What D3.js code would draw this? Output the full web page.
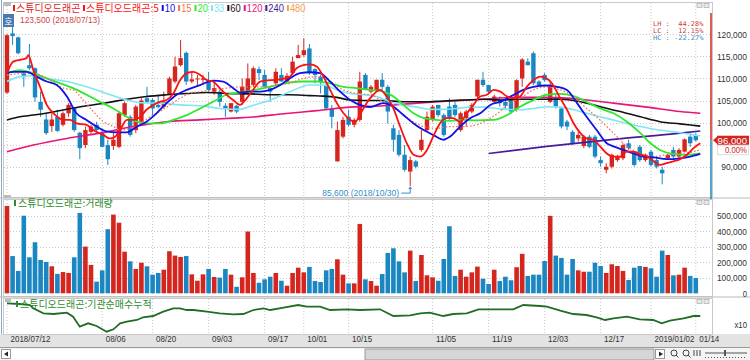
<!DOCTYPE html>
<html><head><meta charset="utf-8">
<script src="https://cdn.jsdelivr.net/npm/d3@7"></script>
<style>body{margin:0;background:#fff}svg{display:block}</style>
</head><body><svg id="c" width="750" height="360"></svg>
<script>
const dates = ["2018-07-12","2018-07-13","2018-07-16","2018-07-17","2018-07-18","2018-07-19","2018-07-20","2018-07-23","2018-07-24","2018-07-25","2018-07-26","2018-07-27","2018-07-30","2018-07-31",
"2018-08-01","2018-08-02","2018-08-03","2018-08-06","2018-08-07","2018-08-08","2018-08-09","2018-08-10","2018-08-13","2018-08-14","2018-08-16","2018-08-17","2018-08-20","2018-08-21","2018-08-22","2018-08-23","2018-08-24","2018-08-27","2018-08-28","2018-08-29","2018-08-30","2018-08-31",
"2018-09-03","2018-09-04","2018-09-05","2018-09-06","2018-09-07","2018-09-10","2018-09-11","2018-09-12","2018-09-13","2018-09-14","2018-09-17","2018-09-18","2018-09-19","2018-09-20","2018-09-21","2018-09-27","2018-09-28",
"2018-10-01","2018-10-02","2018-10-04","2018-10-05","2018-10-08","2018-10-10","2018-10-11","2018-10-12","2018-10-15","2018-10-16","2018-10-17","2018-10-18","2018-10-19","2018-10-22","2018-10-23","2018-10-24","2018-10-25","2018-10-26","2018-10-29","2018-10-30","2018-10-31",
"2018-11-01","2018-11-02","2018-11-05","2018-11-06","2018-11-07","2018-11-08","2018-11-09","2018-11-12","2018-11-13","2018-11-14","2018-11-15","2018-11-16","2018-11-19","2018-11-20","2018-11-21","2018-11-22","2018-11-23","2018-11-26","2018-11-27","2018-11-28","2018-11-29","2018-11-30",
"2018-12-03","2018-12-04","2018-12-05","2018-12-06","2018-12-07","2018-12-10","2018-12-11","2018-12-12","2018-12-13","2018-12-14","2018-12-17","2018-12-18","2018-12-19","2018-12-20","2018-12-21","2018-12-24","2018-12-26","2018-12-27","2018-12-28",
"2019-01-02","2019-01-03","2019-01-04","2019-01-07","2019-01-08","2019-01-09","2019-01-10","2019-01-11","2019-01-14"];

const open  = [106800,120200,119300,111100,113000,112300,104700,100700,99200,101300,99500,102100,103200,97700,94900,97900,99500,97900,94900,94700,94500,101700,101300,98300,100200,105500,105100,104000,103600,106300,109300,113000,115800,109300,109800,109700,109300,107000,107000,103800,102500,103800,104700,107000,108500,112100,110800,107800,108900,110800,109300,111200,114600,115300,116800,112100,110400,108500,103200,91200,96800,101300,99500,100600,110800,107000,107400,109700,108100,98700,97200,92700,88900,91200,93800,98300,100600,104000,101700,103600,104000,98300,101000,102500,105900,109700,108500,104700,105100,104700,105100,102900,110000,113800,115700,109300,110800,104700,105500,103200,100200,97900,96400,94700,96800,96800,91500,89300,90000,91500,91900,95300,93000,94500,91500,93400,91500,89300,91900,93800,92300,93400,96800,97200];
const high  = [120000,123500,119500,111900,117800,112500,107000,102100,102500,102900,102500,104400,103500,97900,99100,99500,100200,98700,96100,97600,102500,104700,101700,104000,105500,108100,105500,106300,107000,110400,114900,118700,116100,111500,110800,110800,111500,109600,107400,104400,104400,104000,110000,113400,112700,112700,111900,108100,112300,112300,111200,114900,117600,119100,117800,112300,110800,108900,104000,100200,101300,102900,101000,111500,111200,108500,109700,111200,108500,99500,98300,94900,92300,91500,98300,102500,104000,104000,102100,105500,104700,102500,102900,104400,109700,111500,108500,106300,105900,105100,105900,109800,114600,114600,116100,109600,111200,109300,106300,103600,100600,98300,97900,97200,97200,97200,92300,90800,93000,92700,95300,96100,93400,94900,93000,93800,91900,90000,93000,94500,94200,96400,97600,97600];
const low   = [106500,117600,115500,108100,111900,104700,101300,97200,97900,97900,99100,101300,97900,91700,94200,97400,97600,94500,90400,93800,94200,101300,96800,97600,99800,104400,101700,103200,103200,106300,108900,112700,108500,108900,108100,108500,107000,106300,103600,101300,102300,102100,104000,106600,108100,109600,107800,104700,108500,109300,108900,110800,114600,114900,110800,108900,106600,102900,98700,91200,96400,99100,98900,100200,107400,106600,107000,107400,99800,93400,92300,88900,85600,89600,93400,97900,100200,101300,96800,100600,101300,97900,99100,102100,105500,108100,106600,104400,103600,102900,102100,102500,108100,113000,108500,108100,109300,104400,103200,98700,98300,94900,95700,94200,94200,91900,90000,88500,89600,91100,91500,93800,90000,91100,91100,90000,89600,86000,91500,91900,91900,93400,94500,95700];
const close = [119800,119600,115700,110300,112300,105700,102900,97600,100700,98100,102100,104000,98300,94200,98300,99100,98300,94500,91700,96100,102100,104400,97200,103600,105000,104700,103200,103500,104700,110000,112700,114600,109300,109800,110000,110000,107400,107800,104700,103200,104400,102500,108100,110000,112300,111200,108100,107000,111500,109300,110600,113800,115300,116400,111200,110800,109300,103200,101300,98300,100600,99500,100600,109300,107400,108100,109700,108100,102500,96100,92700,89300,91500,90000,96100,101300,103600,101700,97200,101000,101700,102100,102500,104000,109700,108500,107000,105900,104400,103800,102500,109600,114300,113000,108900,108500,109600,108100,103600,99100,99100,95300,97200,96800,94500,92300,90800,90000,92700,92400,94900,94200,90400,91500,92700,90400,90000,88500,92700,92300,93800,96200,95300,96000];
const volume = [563000,240000,144000,500000,232000,329000,215000,202000,174000,125000,137000,131000,232000,518000,301000,183000,75000,148000,413000,507000,455000,268000,206000,157000,197000,174000,120000,131000,152000,271000,243000,234000,240000,122000,81000,122000,157000,105000,101000,157000,120000,42000,103000,398000,131000,68000,90000,107000,131000,81000,49000,131000,165000,135000,170000,79000,73000,148000,157000,219000,120000,64000,64000,447000,90000,79000,49000,124000,260000,290000,206000,135000,275000,79000,247000,116000,103000,81000,221000,432000,112000,152000,107000,135000,172000,94000,60000,152000,79000,107000,84000,168000,254000,112000,120000,120000,208000,499000,243000,228000,120000,221000,148000,139000,139000,197000,176000,131000,187000,176000,144000,86000,165000,176000,170000,161000,107000,275000,247000,116000,120000,165000,112000,99000];

// moving averages: [candle index, price]
const ma5 = [[0,111200],[1.1,113800],[3.5,114600],[3.8,115300],[4.7,111900],[5.9,108100],[7.1,104000],[8.3,102100],[10.1,100600],[11.3,100600],[12.4,99800],[14.2,99500],[15.4,98300],[17.2,97200],[18.4,96400],[19.3,96800],[20.2,98300],[21.4,100600],[22.6,100600],[23.8,101300],[24.9,102900],[26.1,104000],[27.3,104700],[28.5,105100],[29.7,106600],[30.9,109600],[32.1,111200],[33.3,111500],[34.5,110800],[35.7,109600],[36.8,109300],[38,107800],[39.2,106300],[40.4,105100],[41.6,104000],[42.8,105500],[44,107500],[45.2,109300],[47,109600],[48.8,109800],[50.5,110400],[51.7,112300],[52.9,113000],[54.1,113200],[55.3,112700],[56.5,110400],[57.7,107400],[58.9,104400],[60.1,102100],[61.3,100600],[62.2,100200],[63,101700],[64.2,104400],[65.4,106300],[66.6,107400],[67.8,105900],[69,103200],[70.2,99100],[71.4,95300],[72.6,92700],[73.8,92300],[75,93800],[76.1,96800],[77.3,99800],[78.5,101000],[79.7,101000],[80.9,100200],[82.1,102100],[83.3,104000],[84.5,105900],[85.7,106300],[86.9,107400],[88.1,107000],[89.3,105900],[90.5,105500],[91.6,105900],[92.8,108100],[94,109600],[95.2,110400],[96.4,110000],[97.3,108900],[98.8,105500],[100,102900],[101.2,99800],[102.4,97600],[103.5,96400],[104.7,96100],[105.9,94600],[107.1,93000],[108.3,92300],[109.5,92300],[110.7,93400],[111.9,93400],[113.1,92700],[114.3,92300],[115.5,91200],[116.6,90400],[117.8,90800],[119,91200],[120.2,91700],[121.4,92700],[122.6,94200],[123.8,95300]];
const ma10 = [[0,111200],[1.1,111500],[3.5,111500],[5.3,110400],[7.1,109300],[8.9,108500],[10.7,105900],[12.4,102100],[14.2,100600],[16,99100],[17.8,98000],[19.6,97800],[21.4,97800],[23.2,99100],[24.9,100200],[26.7,102100],[28.5,104400],[30.3,106300],[32.1,107400],[34.5,108500],[36.8,109500],[38.6,109300],[40.4,107800],[41.6,106800],[43.4,107000],[45.2,107000],[47,107400],[48.8,108500],[50.5,110000],[52.3,111200],[54.1,111400],[55.9,111200],[57.7,109300],[59.5,107000],[61.3,105100],[63,104000],[64.8,103500],[67.2,104400],[69,103600],[70.8,101700],[72.6,99800],[74.4,98300],[76.1,97200],[77.9,96100],[79.1,96800],[80.9,99100],[82.7,101000],[84.5,102100],[86.3,104000],[88.1,104700],[90.5,106300],[92.2,107400],[94,108100],[96.4,108400],[98.2,108100],[100,107400],[101.8,104400],[103.5,101300],[105.3,98300],[107.1,95300],[108.3,94600],[110.1,93800],[111.9,93000],[113.7,92300],[115.5,92100],[117.8,91700],[120.2,91900],[122,92300],[123.8,92900]];
const ma15 = [[0,110800],[4.7,111200],[7.7,109600],[10.1,107800],[11.8,107400],[13.6,105100],[15.4,102500],[17.2,100200],[19,99100],[20.2,98300],[22,98700],[23.8,99800],[25.5,101300],[27.3,102500],[29.1,104000],[30.9,105500],[32.7,106600],[34.5,107000],[36.8,107400],[39.2,107800],[41.6,108100],[43.4,108100],[45.8,108100],[48.2,108500],[50.5,108900],[52.9,110000],[55.3,110400],[57.7,109300],[60.1,107400],[62.4,106600],[64.8,106300],[67.2,104700],[69.6,102900],[72,100600],[74.4,99100],[76.7,98700],[79.1,99100],[81.5,99100],[83.9,99500],[86.3,101000],[88.1,102600],[89.3,104000],[91.6,105500],[94,107400],[96.4,108100],[98.8,107400],[101.2,105900],[103.5,103200],[105.9,100600],[108.3,97600],[110.7,94600],[113.1,93000],[115.5,92300],[117.8,92700],[120.2,93000],[122.6,93400],[123.8,93800]];
const ma20 = [[0,111200],[2.3,111900],[4.7,111200],[7.1,110000],[9.5,108900],[11.8,107800],[14.2,106300],[16.6,104700],[19,103200],[21.4,101300],[23.2,100200],[24.9,99800],[27.3,99800],[29.7,100600],[32.1,101700],[34.5,103200],[36.8,104700],[39.2,106300],[41.6,106800],[43.4,107200],[45.8,107800],[48.2,108500],[50.5,109100],[52.9,109300],[55.3,109300],[57.7,108900],[60.1,108100],[62.4,107800],[64.8,107400],[67.2,107000],[69,105900],[70.8,104000],[72.6,102100],[74.4,101000],[76.7,100600],[79.1,100400],[81.5,100600],[83.9,100500],[86.9,100600],[89.3,101700],[91.6,103600],[94,105100],[96.4,106300],[98.8,106500],[101.2,106000],[103.5,104700],[105.9,103200],[108.3,102100],[110.7,100200],[113.1,97600],[114.9,95300],[116.6,93800],[119,92900],[121.4,92700],[123.8,93000]];
const ma33 = [[0,109300],[2.3,110400],[4.7,110600],[7.1,110000],[10.7,109300],[14.2,108100],[17.8,106600],[21.4,105100],[23.8,104500],[27.3,104400],[30.9,104000],[34.5,103800],[38,103200],[41.6,103000],[43.4,103700],[47,105100],[50.5,107000],[54.1,108500],[56.5,108500],[58.9,107400],[61.3,106600],[63.6,106300],[66,105900],[68.4,104700],[70.8,104000],[73.2,103500],[75.5,103000],[77.9,103000],[80.3,103200],[82.7,103500],[85.1,103500],[88,103100],[91.6,102900],[94,103200],[96.4,103600],[98.8,103500],[101.2,102900],[103.5,102100],[105.9,101300],[108.3,100600],[110.7,99800],[113.1,99100],[115.5,98500],[117.8,98100],[120.2,97700],[122.6,97200],[123.8,97000]];
const ma60 = [[0,100600],[2.3,101300],[4.7,101700],[7.7,102300],[10.7,103000],[14.2,103800],[17.8,104500],[21.4,105300],[24.9,105900],[28.5,106300],[32.1,106600],[35.7,106800],[39.2,106600],[43.4,106500],[47,106300],[50.5,106300],[54.1,106100],[56.5,106000],[58.9,105700],[61.3,105100],[63.6,105000],[67.2,105000],[70.8,104700],[74.4,104700],[77.9,104900],[81.5,105100],[85.1,105300],[88.1,105100],[91.6,105300],[95.2,105300],[98.8,105300],[102.4,104700],[105.9,103600],[109.5,102500],[113.1,101300],[116.6,100200],[120.2,99700],[123.8,99200]];
const ma120 = [[0,93400],[4.7,94900],[10.7,96400],[16.6,97600],[22.6,99100],[28.5,100200],[34.5,100600],[40.4,101000],[43.4,101200],[49.4,102000],[55.3,102700],[61.3,103500],[67.2,103800],[73.2,104400],[79.1,104900],[85.1,105300],[90.5,105700],[96.4,105700],[102.4,105300],[108.3,104400],[114.3,103500],[120.2,102500],[123.8,102100]];
const ma240 = [[86,93000],[96.4,94600],[108.3,96200],[120.2,97600],[123.8,98100]];
// institutional net-buy cumulative (x10, relative units)
const instCum = [[0,347],[2.3,340],[4.1,330],[4.7,297],[6.5,247],[8.3,240],[10.7,253],[11.8,213],[13,113],[14.5,147],[16,120],[17.8,63],[19,87],[20.2,147],[21.4,163],[23.2,180],[24.3,207],[26.1,220],[27.9,263],[29.7,297],[30.9,297],[32.1,280],[33.3,280],[35.7,263],[38,247],[40.4,237],[42.2,240],[44,280],[45.8,297],[47,280],[49.4,303],[52,330],[53.5,313],[55.9,313],[57.7,280],[60.7,287],[63,280],[66.6,287],[69,220],[72,227],[73.8,247],[75.5,253],[77.9,220],[79.7,240],[82.1,247],[84.2,287],[86.8,287],[90.4,287],[92.2,330],[95.2,320],[96.4,313],[98.8,273],[101.1,240],[103.5,230],[105.3,207],[106.8,180],[108.3,197],[110.7,213],[113,187],[115.4,180],[116.9,147],[118.4,173],[120.8,197],[122.6,220],[123.8,220]];

const priceGrid = [90000,95000,100000,105000,110000,115000,120000];
const priceTicks = [90000,100000,105000,110000,115000,120000];
const volTicks = [0,100000,200000,300000,400000,500000];
const dateTicks = ["2018-07-12","2018-08-06","2018-08-20","2018-09-03","2018-09-17","2018-10-01","2018-10-15","2018-11-05","2018-11-19","2018-12-03","2018-12-17","2019-01-02","2019-01-14"];
const maNames = ["5","10","15","20","33","60","120","240","480"];
const maColors = ["#ff1010","#1010e8","#f47050","#2ee82e","#7fe6f5","#111111","#e8147a","#4a1a9a","#f5a050"];
const lastPrice = 96000, hiLabel = "123,500 (2018/07/13)", loLabel = "85,600 (2018/10/30)";
const hiIdx = 1, hiVal = 123500, loIdx = 72, loVal = 85600;
const statRows = [["LH :  44.28%","#d23a3a"],["LC :  12.15%","#d23a3a"],["HC : -22.27%","#3a8fc8"]];

const NUM = "'Liberation Sans','DejaVu Sans',sans-serif";
const KR = "'Noto Sans CJK KR','Noto Sans',sans-serif";
const MONO = "'DejaVu Sans Mono','Liberation Mono',monospace";
const UP = "#d4261e", DN = "#1a87c3";
const fit = (sel, per, xr) => sel.each(function(){
  const n = this.textContent.length*per, s = d3.select(this);
  s.attr("lengthAdjust","spacingAndGlyphs").attr("textLength", n);
  if (xr !== undefined) s.attr("text-anchor","start").attr("x", xr - n);
});

const svg = d3.select("#c");
const P = {x0:3, x1:712};
const main = {y0:2, y1:197}, vol = {y0:199, y1:296}, bot = {y0:298, y1:334};

const x = d3.scalePoint().domain(dates).range([7, 7 + 5.6*(dates.length-1)]);
const xi = d3.scaleLinear().domain([0, dates.length-1]).range(x.range());
const yP = d3.scaleLinear().domain([90000,120000]).range([166.7,34.3]);
const yV = d3.scaleLinear().domain([0,500000]).range([293.3,215.7]);
const yB = d3.scaleLinear().domain([0,400]).range([338,298]);

svg.append("rect").attr("x",0).attr("y",0).attr("width",750).attr("height",360).attr("fill","#fff");
svg.append("rect").attr("x",0).attr("y",334).attr("width",750).attr("height",13).attr("fill","#e3e3e3");
svg.append("rect").attr("x",0).attr("y",347).attr("width",750).attr("height",13).attr("fill","#f4f4f4");
svg.append("line").attr("x1",0).attr("x2",750).attr("y1",347.5).attr("y2",347.5).attr("stroke","#9a9a9a");

[main, vol, bot].forEach(p => {
  svg.append("rect").attr("x",P.x0+0.5).attr("y",p.y0+0.5).attr("width",P.x1-P.x0).attr("height",p.y1-p.y0)
    .attr("fill","none").attr("stroke","#c9c9c9");
});
svg.append("line").attr("x1",1.5).attr("x2",1.5).attr("y1",0).attr("y2",334).attr("stroke","#8fa8c8");
[198, 297].forEach(y => svg.append("line").attr("x1",0).attr("x2",750).attr("y1",y).attr("y2",y).attr("stroke","#b8b8b8"));

const defs = svg.append("defs");
[["cm",main],["cv",vol],["cb",bot]].forEach(([id,p]) => {
  defs.append("clipPath").attr("id",id).append("rect").attr("x",P.x0+1).attr("y",p.y0+1).attr("width",P.x1-P.x0-1).attr("height",p.y1-p.y0-1);
});

[main, vol, bot].forEach(p => {
  svg.append("g").selectAll("line").data(dateTicks).join("line")
    .attr("x1",d=>x(d)).attr("x2",d=>x(d)).attr("y1",p.y0+1).attr("y2",p.y1)
    .attr("stroke","#c8c8c8").attr("stroke-dasharray","1,2");
});
svg.append("g").selectAll("line").data(priceGrid).join("line")
  .attr("x1",P.x0+1).attr("x2",P.x1).attr("y1",d=>Math.round(yP(d))+0.5).attr("y2",d=>Math.round(yP(d))+0.5)
  .attr("stroke","#c8c8c8").attr("stroke-dasharray","1,2");
svg.append("g").selectAll("line").data(volTicks.slice(1)).join("line")
  .attr("x1",P.x0+1).attr("x2",P.x1).attr("y1",d=>Math.round(yV(d))+0.5).attr("y2",d=>Math.round(yV(d))+0.5)
  .attr("stroke","#c8c8c8").attr("stroke-dasharray","1,2");

const candles = dates.map((d,i)=>({d,o:open[i],h:high[i],l:low[i],c:close[i],v:volume[i]}));
const gC = svg.append("g").attr("clip-path","url(#cm)");
gC.selectAll("line").data(candles).join("line")
  .attr("x1",d=>x(d.d)).attr("x2",d=>x(d.d)).attr("y1",d=>yP(d.h)).attr("y2",d=>yP(d.l))
  .attr("stroke",d=>d.c>=d.o?UP:DN).attr("stroke-width",1);
gC.selectAll("rect").data(candles).join("rect")
  .attr("x",d=>x(d.d)-2.2).attr("width",4.4)
  .attr("y",d=>yP(Math.max(d.o,d.c))).attr("height",d=>Math.max(1,Math.abs(yP(d.o)-yP(d.c))))
  .attr("fill",d=>d.c>=d.o?UP:DN);

const line = d3.line().x(d=>xi(d[0])).y(d=>yP(d[1])).curve(d3.curveMonotoneX);
const gM = svg.append("g").attr("clip-path","url(#cm)").attr("fill","none");
const maSeries = [[ma120,6,1.6,null],[ma60,5,1.6,null],[ma240,7,1.6,null],[ma33,4,1.6,null],[ma20,3,1.8,null],[ma15,2,1.3,"1.5,2"],[ma10,1,1.8,null],[ma5,0,1.8,null]];
maSeries.forEach(([data,ci,w,dash]) => {
  gM.append("path").attr("d",line(data)).attr("stroke",maColors[ci]).attr("stroke-width",w).attr("stroke-dasharray",dash);
});

svg.append("g").attr("clip-path","url(#cv)").selectAll("rect").data(candles).join("rect")
  .attr("x",d=>x(d.d)-2.3).attr("width",4.6)
  .attr("y",d=>yV(d.v)).attr("height",d=>yV(0)-yV(d.v))
  .attr("fill",d=>d.c>=d.o?UP:DN);

svg.append("path").attr("clip-path","url(#cb)")
  .attr("d", d3.line().x(d=>xi(d[0])).y(d=>yB(d[1]))(instCum))
  .attr("fill","none").attr("stroke","#1f6e24").attr("stroke-width",1.8);

const axP = svg.append("g").call(d3.axisLeft(yP).tickValues(priceTicks).tickSize(0).tickPadding(0).tickFormat(d3.format(",")));
const axV = svg.append("g").call(d3.axisLeft(yV).tickValues(volTicks).tickSize(0).tickPadding(0).tickFormat(d3.format(",")));
[axP, axV].forEach(a => { a.select(".domain").remove();
  fit(a.selectAll("text").attr("font-family",NUM).attr("font-size",8.8).attr("fill","#333"), 4.3, 747); });
fit(svg.append("text").attr("y",328).attr("font-family",NUM).attr("font-size",8.8).attr("fill","#333").text("x10"), 4.2, 747);

const fmt = (d,i) => { const p = d.split("-"); return (i===0 || p[1]==="01" && p[2]==="02") ? p.join("/") : p[1]+"/"+p[2]; };
const axX = svg.append("g").attr("transform","translate(0,336)")
  .call(d3.axisBottom(x).tickValues(dateTicks).tickSize(0).tickPadding(0).tickFormat(fmt));
axX.select(".domain").remove();
fit(axX.selectAll("text").attr("text-anchor","start").attr("dx",3).attr("dy","0.7em")
  .attr("font-family",NUM).attr("font-size",8.6).attr("fill","#333"), 4.0);

const yL = yP(lastPrice);
svg.append("line").attr("x1",711).attr("x2",711).attr("y1",13).attr("y2",yL).attr("stroke","#d4261e").attr("stroke-width",1.5);
svg.append("line").attr("x1",711).attr("x2",711).attr("y1",yL).attr("y2",199).attr("stroke","#1a87c3").attr("stroke-width",1.5);
svg.append("path").attr("d",`M713,${yL}L717,${yL-3.5}L717,${yL+3.5}Z`).attr("fill","#d4261e");
svg.append("rect").attr("x",717).attr("y",yL-4.5).attr("width",32).attr("height",9).attr("fill","#d4261e");
fit(svg.append("text").attr("y",yL+3.4).attr("font-family",NUM).attr("font-size",8.8).attr("fill","#fff").text(d3.format(",")(lastPrice)), 4.9, 747);
svg.append("rect").attr("x",717.5).attr("y",yL+5.5).attr("width",31).attr("height",9).attr("fill","#fff").attr("stroke","#ddd");
fit(svg.append("text").attr("y",yL+13).attr("font-family",NUM).attr("font-size",8.8).attr("fill","#d4261e").text("0.00%"), 4.4, 747);

statRows.forEach(([t,c],k) => fit(svg.append("text").attr("x",653).attr("y",26+k*7)
  .attr("font-family",MONO).attr("font-size",6.5).attr("fill",c).attr("xml:space","preserve").text(t), 4.2));

[main.y0, vol.y0, bot.y0].forEach(y => {
  [697,704].forEach(xx => svg.append("rect").attr("x",xx).attr("y",y+1.5).attr("width",5).attr("height",4)
    .attr("fill","#e8e8e8").attr("stroke","#aaa").attr("stroke-width",0.7));
});

const lg = svg.append("g");
lg.append("rect").attr("x",4).attr("y",2).attr("width",7).attr("height",4).attr("fill","#bbb");
let lx = 13;
lg.append("rect").attr("x",lx).attr("y",5).attr("width",2).attr("height",6).attr("fill","#e01818");
lg.append("text").attr("x",lx+3).attr("y",12).attr("font-family",KR).attr("font-size",10).attr("fill","#e01818").text("스튜디오드래곤");
lx = 83;
maNames.forEach((n,k) => {
  lg.append("rect").attr("x",lx).attr("y",5).attr("width",2).attr("height",6).attr("fill",maColors[k]);
  const t = lg.append("text").attr("x",lx+3).attr("y",12).attr("font-family",k===0?KR:NUM).attr("font-size",10)
    .attr("fill",k===5?"#111":maColors[k]).text(k===0 ? "스튜디오드래곤:5" : n);
  if (k>0) fit(t, 5.2);
  lx += (k>0 ? n.length*5.2 : t.node().getComputedTextLength()) + 6;
});
// high label sits just under the legend line
fit(svg.append("text").attr("x",20).attr("y",23).attr("font-family",NUM).attr("font-size",8.5)
  .attr("fill","#c83030").attr("opacity",0.9).text(hiLabel), 4.0);
svg.append("rect").attr("x",3).attr("y",14).attr("width",11).attr("height",13).attr("fill","#4a78b0");
svg.append("text").attr("x",8.5).attr("y",24.5).attr("text-anchor","middle").attr("font-family",KR).attr("font-size",9).attr("fill","#fff").text("호");

const lxp = xi(loIdx), lyp = yP(loVal);
fit(svg.append("text").attr("x",lxp-88).attr("y",lyp+10).attr("font-family",NUM).attr("font-size",9)
  .attr("fill","#3a8fc8").text(loLabel), 4.05);
svg.append("path").attr("d",`M${lxp-9},${lyp+7}H${lxp}V${lyp+2}`).attr("fill","none").attr("stroke","#3a8fc8");
svg.append("path").attr("d",`M${lxp-2},${lyp+3}L${lxp},${lyp+0.5}L${lxp+2},${lyp+3}Z`).attr("fill","#3a8fc8");

svg.append("rect").attr("x",4).attr("y",vol.y0-4).attr("width",7).attr("height",3).attr("fill","#bbb");
svg.append("rect").attr("x",14).attr("y",vol.y0+1).attr("width",2).attr("height",6).attr("fill","#2e8b2e");
svg.append("text").attr("x",18).attr("y",vol.y0+8).attr("font-family",KR).attr("font-size",10).attr("fill","#2e8b2e").text("스튜디오드래곤:거래량");
svg.append("rect").attr("x",5).attr("y",bot.y0+1).attr("width",6).attr("height",3).attr("fill","#bbb");
svg.append("rect").attr("x",16).attr("y",bot.y0+3).attr("width",2).attr("height",6).attr("fill","#2e8b2e");
svg.append("text").attr("x",20).attr("y",bot.y0+10).attr("font-family",KR).attr("font-size",10).attr("fill","#2e8b2e").text("스튜디오드래곤:기관순매수누적");

const tb = svg.append("g");
tb.append("rect").attr("x",1.5).attr("y",349.5).attr("width",9).attr("height",9).attr("fill","#fff").attr("stroke","#999");
tb.append("path").attr("d","M8,351.5L4,354L8,356.5Z").attr("fill","#222");
tb.append("rect").attr("x",11).attr("y",349).attr("width",644).attr("height",11).attr("fill","#fff");
tb.append("rect").attr("x",365).attr("y",349).attr("width",289).attr("height",11).attr("fill","#d6d6d6").attr("stroke","#9a9a9a");
tb.append("rect").attr("x",655.5).attr("y",349.5).attr("width",9).attr("height",9).attr("fill","#fff").attr("stroke","#999");
tb.append("path").attr("d","M659,351.5L663,354L659,356.5Z").attr("fill","#222");
[674,686].forEach(cx=>{
  tb.append("circle").attr("cx",cx).attr("cy",353).attr("r",3).attr("fill","none").attr("stroke","#444");
  tb.append("line").attr("x1",cx+2).attr("y1",355).attr("x2",cx+4.5).attr("y2",357.5).attr("stroke","#444");
});
tb.append("path").attr("d","M694,350v6M697,350v6M700,350v6").attr("stroke","#444");
tb.append("line").attr("x1",705).attr("x2",747).attr("y1",353).attr("y2",353).attr("stroke","#555");
tb.append("rect").attr("x",724).attr("y",350).attr("width",2).attr("height",6).attr("fill","#555");
tb.append("path").attr("d","M705,357.5H747").attr("stroke","#555").attr("stroke-dasharray","1,2");
</script></body></html>
